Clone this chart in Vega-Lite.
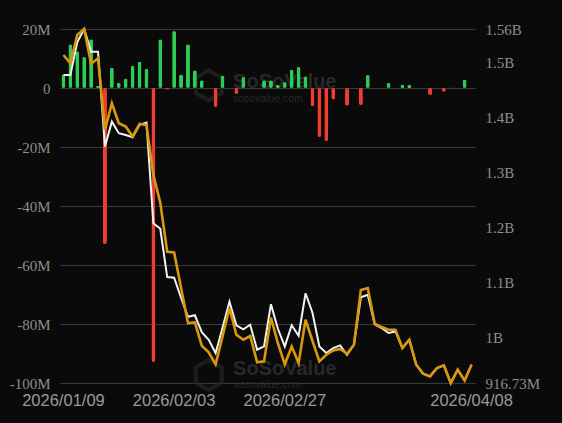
{
  "$schema": "https://vega.github.io/schema/vega-lite/v6.json",
  "width": 415,
  "height": 354,
  "autosize": {"type": "none"},
  "padding": {"left": 60, "top": 29, "right": 87, "bottom": 40},
  "background": "#0a0a0a",
  "config": {"view": {"stroke": null}},
  "data": {
    "values": [
      {"date": "2026/01/09", "netInflow": 4.6, "netAssets": 1476.5, "marketValue": 1512.8},
      {"date": "2026/01/12", "netInflow": 14.8, "netAssets": 1476.5, "marketValue": 1497.7},
      {"date": "2026/01/13", "netInflow": 12.5, "netAssets": 1536.4, "marketValue": 1549.1},
      {"date": "2026/01/14", "netInflow": 10.5, "netAssets": 1560, "marketValue": 1560},
      {"date": "2026/01/15", "netInflow": 16.5, "netAssets": 1518.8, "marketValue": 1496.5},
      {"date": "2026/01/16", "netInflow": 0.8, "netAssets": 1518.8, "marketValue": 1506.8},
      {"date": "2026/01/20", "netInflow": -52.9, "netAssets": 1346.3, "marketValue": 1376.6},
      {"date": "2026/01/21", "netInflow": 6.9, "netAssets": 1391.7, "marketValue": 1425.1},
      {"date": "2026/01/22", "netInflow": 1.8, "netAssets": 1370.6, "marketValue": 1388.8},
      {"date": "2026/01/23", "netInflow": 3.2, "netAssets": 1367.5, "marketValue": 1382.6},
      {"date": "2026/01/26", "netInflow": 7.5, "netAssets": 1363.4, "marketValue": 1364.5},
      {"date": "2026/01/27", "netInflow": 8.9, "netAssets": 1385.7, "marketValue": 1387.5},
      {"date": "2026/01/28", "netInflow": 6.5, "netAssets": 1389.9, "marketValue": 1385.7},
      {"date": "2026/01/29", "netInflow": -92.9, "netAssets": 1207.2, "marketValue": 1294.9},
      {"date": "2026/01/30", "netInflow": 16.5, "netAssets": 1196.9, "marketValue": 1244.1},
      {"date": "2026/02/02", "netInflow": -0.5, "netAssets": 1109.2, "marketValue": 1155.1},
      {"date": "2026/02/03", "netInflow": 19.3, "netAssets": 1107.9, "marketValue": 1153.9},
      {"date": "2026/02/05", "netInflow": 4.6, "netAssets": 1071.6, "marketValue": 1089.8},
      {"date": "2026/02/06", "netInflow": 14.8, "netAssets": 1037.1, "marketValue": 1025.7},
      {"date": "2026/02/09", "netInflow": 6.0, "netAssets": 1039.8, "marketValue": 1026.8},
      {"date": "2026/02/10", "netInflow": 2.6, "netAssets": 1009, "marketValue": 984.5},
      {"date": "2026/02/11", "netInflow": 0, "netAssets": 995.3, "marketValue": 972.6},
      {"date": "2026/02/12", "netInflow": -6.4, "netAssets": 971.2, "marketValue": 950.7},
      {"date": "2026/02/13", "netInflow": 4.2, "netAssets": 1017.1, "marketValue": 1001.3},
      {"date": "2026/02/17", "netInflow": 0, "netAssets": 1064.3, "marketValue": 1052.9},
      {"date": "2026/02/18", "netInflow": -2.0, "netAssets": 1021.7, "marketValue": 1004.4},
      {"date": "2026/02/19", "netInflow": 3.7, "netAssets": 1014.2, "marketValue": 995.3},
      {"date": "2026/02/20", "netInflow": 0, "netAssets": 1022.6, "marketValue": 1002.1},
      {"date": "2026/02/23", "netInflow": 0, "netAssets": 977.2, "marketValue": 954.5},
      {"date": "2026/02/24", "netInflow": 2.6, "netAssets": 983.2, "marketValue": 956},
      {"date": "2026/02/25", "netInflow": 2.6, "netAssets": 1059.8, "marketValue": 1035.7},
      {"date": "2026/02/26", "netInflow": 1.0, "netAssets": 1015.3, "marketValue": 989.4},
      {"date": "2026/02/27", "netInflow": 2.0, "netAssets": 983.2, "marketValue": 950.7},
      {"date": "2026/03/02", "netInflow": 6.3, "netAssets": 1021.7, "marketValue": 983.2},
      {"date": "2026/03/03", "netInflow": 7.1, "netAssets": 1002.6, "marketValue": 953.1},
      {"date": "2026/03/04", "netInflow": 4.0, "netAssets": 1079.8, "marketValue": 1031.7},
      {"date": "2026/03/05", "netInflow": -6.2, "netAssets": 1044.4, "marketValue": 993.5},
      {"date": "2026/03/06", "netInflow": -16.6, "netAssets": 983.2, "marketValue": 956},
      {"date": "2026/03/09", "netInflow": -18, "netAssets": 971.2, "marketValue": 968.1},
      {"date": "2026/03/10", "netInflow": -3.9, "netAssets": 980.3, "marketValue": 975.9},
      {"date": "2026/03/11", "netInflow": 0, "netAssets": 985, "marketValue": 978.5},
      {"date": "2026/03/12", "netInflow": -6.0, "netAssets": 968.1, "marketValue": 969.9},
      {"date": "2026/03/13", "netInflow": 0, "netAssets": 986.3, "marketValue": 986.3},
      {"date": "2026/03/16", "netInflow": -5.8, "netAssets": 1072.5, "marketValue": 1085.6},
      {"date": "2026/03/17", "netInflow": 4.4, "netAssets": 1077, "marketValue": 1089.2},
      {"date": "2026/03/18", "netInflow": 0, "netAssets": 1023.3, "marketValue": 1024.4},
      {"date": "2026/03/19", "netInflow": 0, "netAssets": 1016.6, "marketValue": 1018.4},
      {"date": "2026/03/20", "netInflow": 1.8, "netAssets": 1007.5, "marketValue": 1013.5},
      {"date": "2026/03/23", "netInflow": 0, "netAssets": 1010.4, "marketValue": 1013.5},
      {"date": "2026/03/24", "netInflow": 1.2, "netAssets": 980.3, "marketValue": 980.3},
      {"date": "2026/03/25", "netInflow": 1.1, "netAssets": 995.3, "marketValue": 995.3},
      {"date": "2026/03/26", "netInflow": 0, "netAssets": 950, "marketValue": 950},
      {"date": "2026/03/27", "netInflow": 0, "netAssets": 933.6, "marketValue": 933.6},
      {"date": "2026/03/30", "netInflow": -2.4, "netAssets": 928.7, "marketValue": 928.7},
      {"date": "2026/03/31", "netInflow": 0, "netAssets": 944, "marketValue": 944},
      {"date": "2026/04/01", "netInflow": -1.3, "netAssets": 948.7, "marketValue": 948.7},
      {"date": "2026/04/02", "netInflow": 0.2, "netAssets": 916.73, "marketValue": 916.73},
      {"date": "2026/04/06", "netInflow": 0, "netAssets": 940.9, "marketValue": 940.9},
      {"date": "2026/04/07", "netInflow": 2.9, "netAssets": 921.4, "marketValue": 921.4},
      {"date": "2026/04/08", "netInflow": 0, "netAssets": 950, "marketValue": 950}
    ]
  },
  "encoding": {
    "x": {
      "field": "date",
      "type": "ordinal",
      "sort": null,
      "bandPosition": 0.5,
      "scale": {
        "type": "band",
        "paddingInner": 0,
        "paddingOuter": 0,
        "domain": ["2026/01/09", "2026/01/12", "2026/01/13", "2026/01/14", "2026/01/15", "2026/01/16", "2026/01/20", "2026/01/21", "2026/01/22", "2026/01/23", "2026/01/26", "2026/01/27", "2026/01/28", "2026/01/29", "2026/01/30", "2026/02/02", "2026/02/03", "2026/02/05", "2026/02/06", "2026/02/09", "2026/02/10", "2026/02/11", "2026/02/12", "2026/02/13", "2026/02/17", "2026/02/18", "2026/02/19", "2026/02/20", "2026/02/23", "2026/02/24", "2026/02/25", "2026/02/26", "2026/02/27", "2026/03/02", "2026/03/03", "2026/03/04", "2026/03/05", "2026/03/06", "2026/03/09", "2026/03/10", "2026/03/11", "2026/03/12", "2026/03/13", "2026/03/16", "2026/03/17", "2026/03/18", "2026/03/19", "2026/03/20", "2026/03/23", "2026/03/24", "2026/03/25", "2026/03/26", "2026/03/27", "2026/03/30", "2026/03/31", "2026/04/01", "2026/04/02", "2026/04/06", "2026/04/07", "2026/04/08"]
      },
      "axis": {
        "values": ["2026/01/09", "2026/02/03", "2026/02/27", "2026/04/08"],
        "title": null,
        "domain": false,
        "ticks": false,
        "grid": false,
        "labelAngle": 0,
        "labelFont": "Liberation Sans",
        "labelFontSize": 16.5,
        "labelColor": "#9a9a9a",
        "labelPadding": 9,
        "labelOverlap": false,
        "labelFlush": false,
        "labelBound": false
      }
    }
  },
  "layer": [
    {
      "layer": [
        {
          "data": {"values": [{"watermark": "top"}]},
          "mark": {"type": "point", "shape": "M0,-1L0.866,-0.5L0.866,0.5L0,1L-0.866,0.5L-0.866,-0.5Z", "size": 900, "filled": false, "stroke": "#262626", "strokeWidth": 4},
          "encoding": {"x": {"datum": "2026/02/11", "bandPosition": 0.5}, "y": {"datum": 0.9}}
        },
        {
          "data": {"values": [{"watermark": "bottom"}]},
          "mark": {"type": "point", "shape": "M0,-1L0.866,-0.5L0.866,0.5L0,1L-0.866,0.5L-0.866,-0.5Z", "size": 900, "filled": false, "stroke": "#262626", "strokeWidth": 4},
          "encoding": {"x": {"datum": "2026/02/11", "bandPosition": 0.5}, "y": {"datum": -97.3}}
        },
        {
          "data": {"values": [{"watermark": "top"}]},
          "mark": {"type": "text", "text": "SoSoValue", "font": "Liberation Sans", "fontWeight": "bold", "fontSize": 20, "color": "#282828", "align": "center", "baseline": "middle"},
          "encoding": {"x": {"datum": "2026/02/27", "bandPosition": 0.5}, "y": {"datum": 2.0}}
        },
        {
          "data": {"values": [{"watermark": "top"}]},
          "mark": {"type": "text", "text": "sosovalue.com", "font": "Liberation Sans", "fontSize": 10.5, "color": "#282828", "align": "center", "baseline": "middle", "dx": -17},
          "encoding": {"x": {"datum": "2026/02/27", "bandPosition": 0.5}, "y": {"datum": -3.7}}
        },
        {
          "data": {"values": [{"watermark": "bottom"}]},
          "mark": {"type": "text", "text": "SoSoValue", "font": "Liberation Sans", "fontWeight": "bold", "fontSize": 20, "color": "#282828", "align": "center", "baseline": "middle"},
          "encoding": {"x": {"datum": "2026/02/27", "bandPosition": 0.5}, "y": {"datum": -95.2}}
        },
        {
          "data": {"values": [{"watermark": "bottom"}]},
          "mark": {"type": "text", "text": "sosovalue.com", "font": "Liberation Sans", "fontSize": 10, "color": "#282828", "align": "center", "baseline": "middle", "dx": -17},
          "encoding": {"x": {"datum": "2026/02/27", "bandPosition": 0.5}, "y": {"datum": -100.7}}
        },
        {
          "mark": {"type": "bar", "width": 4, "cornerRadius": 2},
          "encoding": {
            "y": {
              "field": "netInflow",
              "type": "quantitative",
              "scale": {"domain": [-100, 20], "nice": false, "zero": true},
              "axis": {
                "values": [-100, -80, -60, -40, -20, 0, 20],
                "labelExpr": "datum.value == 0 ? '0' : datum.value + 'M'",
                "title": null,
                "domain": false,
                "ticks": false,
                "grid": true,
                "gridColor": "#3a3a3a",
                "gridWidth": 1.2,
                "labelFont": "Liberation Serif",
                "labelFontSize": 15,
                "labelColor": "#8d8d8d",
                "labelPadding": 10,
                "labelFlush": false,
                "labelOverlap": false
              }
            },
            "color": {
              "condition": {"test": "datum.netInflow < 0", "value": "#f03c32"},
              "value": "#2ecc57"
            }
          }
        }
      ]
    },
    {
      "layer": [
        {
          "mark": {"type": "line", "color": "#f2f2f2", "strokeWidth": 2},
          "encoding": {
            "y": {
              "field": "netAssets",
              "type": "quantitative",
              "scale": {"domain": [916.73, 1560], "nice": false, "zero": false},
              "axis": {
                "orient": "right",
                "values": [916.73, 1000, 1100, 1200, 1300, 1400, 1500, 1560],
                "labelExpr": "datum.value >= 1000 ? (datum.value / 1000) + 'B' : datum.value + 'M'",
                "title": null,
                "domain": false,
                "ticks": false,
                "grid": false,
                "labelFont": "Liberation Serif",
                "labelFontSize": 15,
                "labelColor": "#8d8d8d",
                "labelPadding": 10,
                "labelFlush": false,
                "labelOverlap": false
              }
            }
          }
        },
        {
          "mark": {"type": "line", "color": "#d9970d", "strokeWidth": 2.6},
          "encoding": {
            "y": {"field": "marketValue", "type": "quantitative"}
          }
        }
      ]
    }
  ],
  "resolve": {"scale": {"y": "independent"}}
}
